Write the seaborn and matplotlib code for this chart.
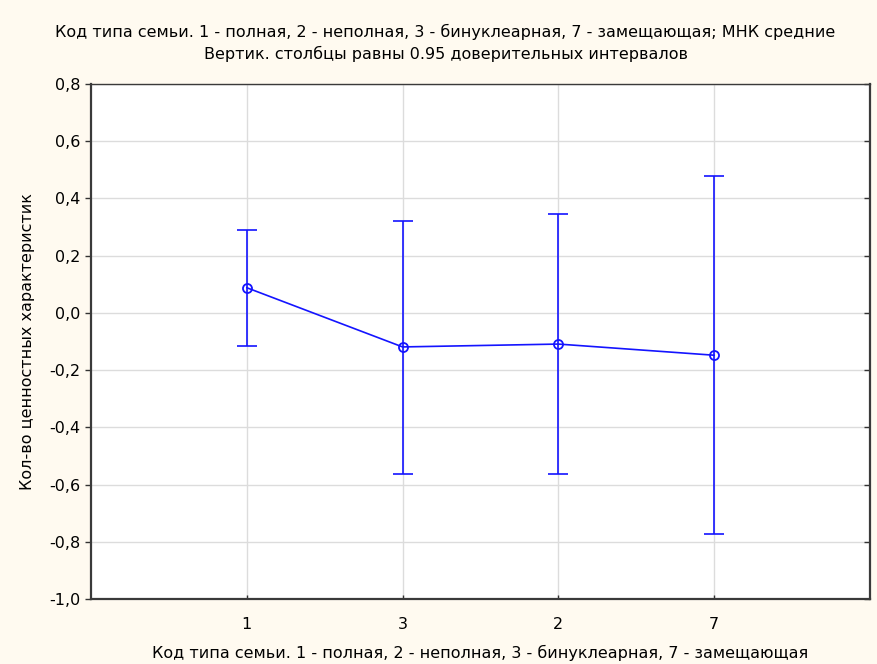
import numpy as np
import pandas as pd
import matplotlib
matplotlib.use("Agg")
import matplotlib.pyplot as plt
import matplotlib.lines as mlines
import seaborn as sns

# Family type codes in the order shown, LS means and 0.95 CI bounds
family_codes = ["1", "3", "2", "7"]
ls_means = [0.088, -0.119, -0.109, -0.148]
ci_low = [-0.114, -0.562, -0.562, -0.773]
ci_high = [0.290, 0.321, 0.344, 0.477]

y_ticks = [-1.0, -0.8, -0.6, -0.4, -0.2, 0.0, 0.2, 0.4, 0.6, 0.8]
y_tick_labels = ["-1,0", "-0,8", "-0,6", "-0,4", "-0,2", "0,0", "0,2", "0,4", "0,6", "0,8"]

title_1 = "Код типа семьи. 1 - полная, 2 - неполная, 3 - бинуклеарная, 7 - замещающая; МНК средние"
title_2 = "Вертик. столбцы равны 0.95 доверительных интервалов"
x_label = "Код типа семьи. 1 - полная, 2 - неполная, 3 - бинуклеарная, 7 - замещающая"
y_label = "Кол-во ценностных характеристик"

df = pd.DataFrame({"code": family_codes, "mean": ls_means,
                   "lo": ci_low, "hi": ci_high})

sns.set_style("white")
plt.rcParams["font.family"] = ["DejaVu Sans"]
plt.rcParams["text.color"] = "black"
plt.rcParams["axes.labelcolor"] = "black"

bg = "#FFFAF0"
blue = "#1414FF"

fig = plt.figure(figsize=(8.77, 6.64), dpi=100, facecolor=bg)
ax = fig.add_axes([0.1037, 0.0979, 0.8883, 0.7756])
ax.set_facecolor("white")

sns.pointplot(data=df, x="code", y="mean", order=family_codes, errorbar=None,
              color=blue, markers="o", linestyles="-", ax=ax,
              markersize=6.5, markerfacecolor="none", markeredgewidth=1.3,
              linewidth=1.2)

# confidence intervals
ax.errorbar(np.arange(len(df)), df["mean"],
            yerr=[df["mean"] - df["lo"], df["hi"] - df["mean"]],
            fmt="none", ecolor=blue, elinewidth=1.2, capsize=7.5, capthick=1.2,
            zorder=2)

ax.set_xlim(-1, 4)
ax.set_ylim(-1.0, 0.8)
ax.set_yticks(y_ticks)
ax.set_yticklabels(y_tick_labels)
ax.grid(True, color="#DCDCDC", linewidth=1.0)
ax.set_axisbelow(True)

for side in ["left", "bottom", "right", "top"]:
    ax.spines[side].set_visible(True)
    ax.spines[side].set_color("#3A3A3A")
ax.spines["left"].set_linewidth(1.6)
ax.spines["bottom"].set_linewidth(1.6)
ax.spines["right"].set_linewidth(1.6)
ax.spines["top"].set_linewidth(1.0)

ax.tick_params(axis="y", which="both", left=True, right=True, direction="out",
               length=4, width=1, colors="#333333", labelsize=11.5, labelcolor="black")
ax.tick_params(axis="x", bottom=True, direction="in", length=3, width=1,
               colors="#333333", labelsize=11.5, labelcolor="black", pad=13)
# right-hand ticks point inward
for t in ax.yaxis.get_major_ticks():
    t.tick2line.set_marker(mlines.TICKLEFT)

ax.set_xlabel(x_label, fontsize=11.5, labelpad=9, color="black")
ax.set_ylabel(y_label, fontsize=11.5, labelpad=10, color="black")

fig.text(0.508, 1 - 32 / 664, title_1, ha="center", va="center", fontsize=11.5, color="black")
fig.text(0.508, 1 - 54 / 664, title_2, ha="center", va="center", fontsize=11.5, color="black")

fig.savefig("out.png", dpi=100, facecolor=bg)
